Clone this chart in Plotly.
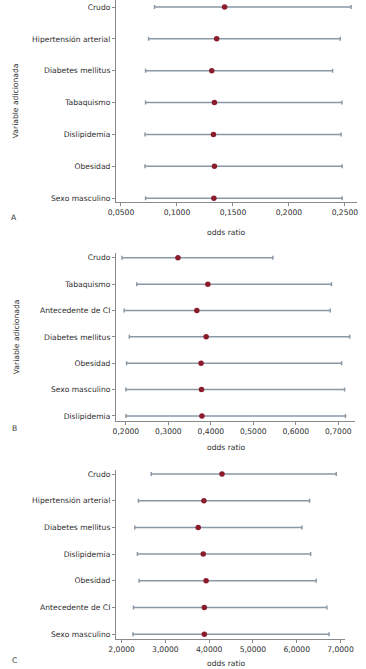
import plotly.graph_objects as go

# Panel A
cats_a = ["Crudo", "Hipertensión arterial", "Diabetes mellitus", "Tabaquismo",
          "Dislipidemia", "Obesidad", "Sexo masculino"]
or_a = [0.1426, 0.1355, 0.1311, 0.1335, 0.1326, 0.1335, 0.1330]
lo_a = [0.0800, 0.0747, 0.0720, 0.0720, 0.0715, 0.0715, 0.0720]
hi_a = [0.2555, 0.2458, 0.2390, 0.2473, 0.2466, 0.2475, 0.2475]
ticks_a = [0.05, 0.10, 0.15, 0.20, 0.25]

# Panel B
cats_b = ["Crudo", "Tabaquismo", "Antecedente de CI", "Diabetes mellitus",
          "Obesidad", "Sexo masculino", "Dislipidemia"]
or_b = [0.3226, 0.3930, 0.3670, 0.3890, 0.3770, 0.3780, 0.3790]
lo_b = [0.1910, 0.2256, 0.1960, 0.2080, 0.2016, 0.2000, 0.2000]
hi_b = [0.5460, 0.6840, 0.6810, 0.7270, 0.7080, 0.7150, 0.7170]
ticks_b = [0.2, 0.3, 0.4, 0.5, 0.6, 0.7]

# Panel C
cats_c = ["Crudo", "Hipertensión arterial", "Diabetes mellitus", "Dislipidemia",
          "Obesidad", "Antecedente de CI", "Sexo masculino"]
or_c = [4.293, 3.880, 3.750, 3.865, 3.930, 3.890, 3.890]
lo_c = [2.677, 2.384, 2.300, 2.360, 2.400, 2.270, 2.260]
hi_c = [6.905, 6.295, 6.120, 6.320, 6.445, 6.690, 6.740]
ticks_c = [2, 3, 4, 5, 6, 7]

panel_letters = ["A", "B", "C"]
x_title = "odds ratio"
y_title = "Variable adicionada"

FONT = "DejaVu Sans"
TXT = "#2e2e2e"
AXC = "#8a8a8a"
WHISK = "#8b98a5"
DOT = "#8b1c2c"

W, H = 366, 669
ML, MR, MT, MB = 116, 6, 0, 30
PW = W - ML - MR
PH = H - MT - MB


def py(p):
    return (PH - (p - MT)) / PH


def px(p):
    return (p - ML) / PW


fig = go.Figure()

panels = [
    (cats_a, or_a, lo_a, hi_a, ticks_a, "x", "y", [0.0456, 0.2608], [6.12, -0.22],
     [0, 1.0], [py(202), py(0)]),
    (cats_b, or_b, lo_b, hi_b, ticks_b, "x2", "y2", [0.1767, 0.7395], [6.18, -0.17],
     [0, px(358)], [py(420.7), py(253.3)]),
    (cats_c, or_c, lo_c, hi_c, ticks_c, "x3", "y3", [1.871, 7.108], [6.18, -0.15],
     [0, px(348)], [py(639), py(470)]),
]

layout = {}
for i, (cats, orv, lo, hi, ticks, xa, ya, xr, yr, xd, yd) in enumerate(panels):
    fig.add_trace(go.Scatter(
        x=orv, y=cats, xaxis=xa, yaxis=ya, mode="markers",
        marker=dict(color=DOT, size=5.5),
        error_x=dict(type="data", symmetric=False,
                     array=[h - o for h, o in zip(hi, orv)],
                     arrayminus=[o - l for o, l in zip(orv, lo)],
                     color=WHISK, thickness=1.5, width=2),
        showlegend=False, hoverinfo="x+y",
    ))
    ttext = [f"{t:.4f}".replace(".", ",") for t in ticks]
    sfx = "" if i == 0 else str(i + 1)
    layout["xaxis" + sfx] = dict(
        domain=xd, range=xr, anchor=ya, tickvals=ticks, ticktext=ttext,
        showline=True, linecolor=AXC, linewidth=1.2, ticks="outside",
        ticklen=3, tickcolor=AXC, showgrid=False, zeroline=False,
        tickfont=dict(family=FONT, size=7.6, color=TXT), fixedrange=True,
    )
    layout["yaxis" + sfx] = dict(
        domain=yd, range=yr, anchor=xa, type="category",
        categoryorder="array", categoryarray=cats,
        showline=True, linecolor=AXC, linewidth=1.2, ticks="outside",
        ticklen=3, tickcolor=AXC, showgrid=False, zeroline=False,
        tickfont=dict(family=FONT, size=7.6, color=TXT), fixedrange=True,
    )

fig.update_layout(**layout)

ann = []
for yy in [232, 447.7, 664]:
    ann.append(dict(text=x_title, x=px(228), y=py(yy), xref="paper", yref="paper",
                    xanchor="center", yanchor="middle", showarrow=False,
                    font=dict(family=FONT, size=7.6, color=TXT)))
for letter, yy in zip(panel_letters, [217, 428, 660]):
    ann.append(dict(text=letter, x=px(13), y=py(yy), xref="paper", yref="paper",
                    xanchor="center", yanchor="middle", showarrow=False,
                    font=dict(family=FONT, size=7.6, color=TXT)))
for yy in [101, 337]:
    ann.append(dict(text=y_title, x=px(15), y=py(yy), xref="paper", yref="paper",
                    xanchor="center", yanchor="middle", showarrow=False, textangle=-90,
                    font=dict(family=FONT, size=7.6, color=TXT)))

fig.update_layout(
    width=W, height=H,
    margin=dict(l=ML, r=MR, t=MT, b=MB),
    paper_bgcolor="white", plot_bgcolor="white",
    annotations=ann,
)

fig.write_html("out.html",
               config={"displayModeBar": False},
               post_script="document.body.style.margin='0px';document.body.style.overflow='hidden';")
